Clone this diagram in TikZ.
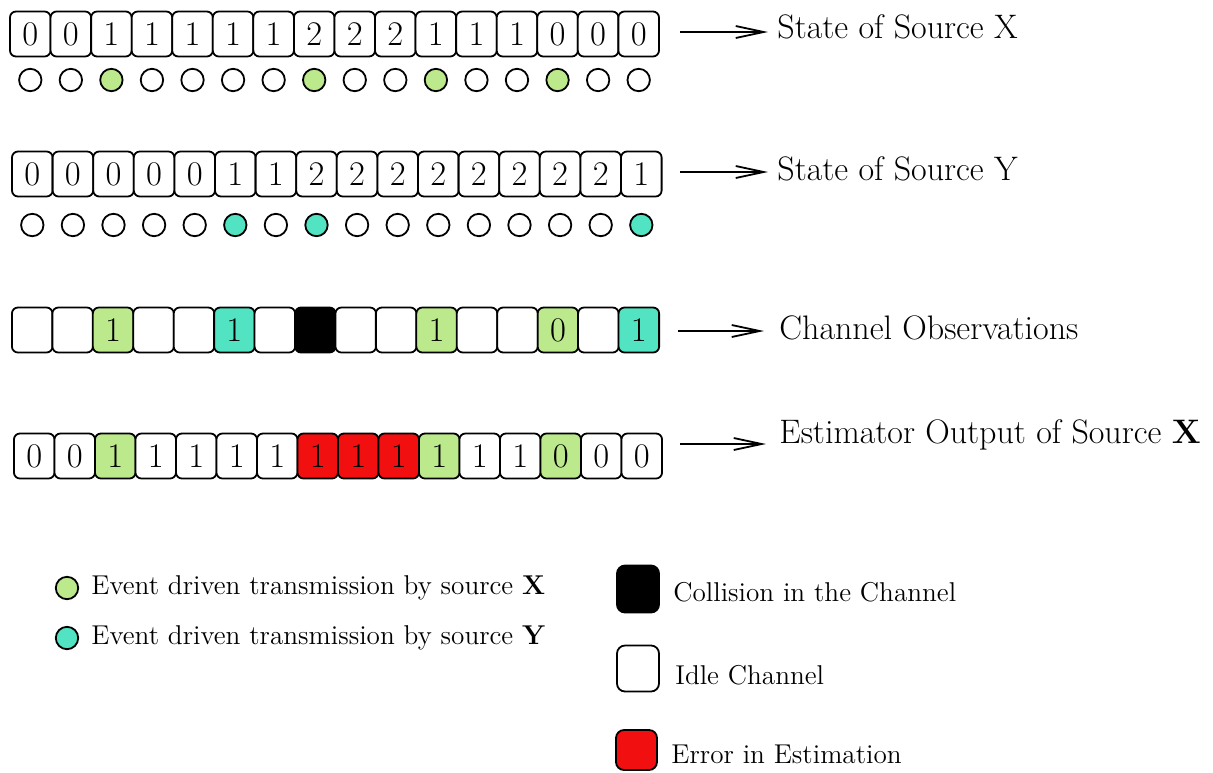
\documentclass[tikz,border=0pt]{standalone}
\usepackage{fontspec}
\usetikzlibrary{arrows.meta}
\definecolor{evx}{RGB}{187,233,139}
\definecolor{evy}{RGB}{82,227,194}
\definecolor{errred}{RGB}{242,15,15}
\tikzset{
  cell/.style={draw, rounded corners=3pt, line width=0.9pt, minimum width=20.3pt,
    minimum height=22.5pt, inner sep=0pt, font=\LARGE},
  dot/.style={circle, draw, line width=0.9pt, minimum size=11.2pt, inner sep=0pt},
  arr/.style={-{Straight Barb[length=14pt,width=6pt]}, line width=0.9pt},
  rowlabel/.style={anchor=west, inner sep=0pt, font=\fontsize{17}{20}\selectfont},
  legtext/.style={anchor=west, inner sep=0pt, font=\fontsize{13.6}{16}\selectfont},
  legbox/.style={draw, rounded corners=4pt, line width=0.9pt, inner sep=0pt}
}
\begin{document}
\begin{tikzpicture}[x=0.5pt, y=-0.5pt]
\useasboundingbox (0,0) rectangle (1213,772);

% ---- state of source X ----
\foreach \v/\f [count=\i] in {0/white,0/white,1/white,1/white,1/white,1/white,1/white,2/white,
                              2/white,2/white,1/white,1/white,1/white,0/white,0/white,0/white}
  \node[cell, fill=\f] (x\i) at ({10+40.56*(\i-0.5)}, 34) {\v};
\foreach \f [count=\i] in {white,white,evx,white,white,white,white,evx,
                           white,white,evx,white,white,evx,white,white}
  \node[dot, fill=\f] (dx\i) at ({10+40.56*(\i-0.5)}, 80) {};
\coordinate (xa) at (680,32);
\coordinate (xb) at (768,32);
\draw[arr] (xa) -- (xb);
\node[rowlabel] (lx) at (777,27) {State of Source X};

% ---- state of source Y ----
\foreach \v [count=\i] in {0,0,0,0,0,1,1,2,2,2,2,2,2,2,2,1}
  \node[cell, fill=white] (y\i) at ({12+40.6*(\i-0.5)}, 174) {\v};
\foreach \f [count=\i] in {white,white,white,white,white,evy,white,evy,
                           white,white,white,white,white,white,white,evy}
  \node[dot, fill=\f] (dy\i) at ({12+40.6*(\i-0.5)}, 225) {};
\coordinate (ya) at (680,172);
\coordinate (yb) at (768,172);
\draw[arr] (ya) -- (yb);
\node[rowlabel] (ly) at (777,169) {State of Source Y};

% ---- channel observations ----
\foreach \v/\f [count=\i] in {{}/white,{}/white,1/evx,{}/white,{}/white,1/evy,{}/white,{}/black,
                              {}/white,{}/white,1/evx,{}/white,{}/white,0/evx,{}/white,1/evy}
  \node[cell, fill=\f] (c\i) at ({12+40.44*(\i-0.5)}, 330) {\v};
\coordinate (ca) at (678,331);
\coordinate (cb) at (764,331);
\draw[arr] (ca) -- (cb);
\node[rowlabel] (lc) at (779,328) {Channel Observations};

% ---- estimator output ----
\foreach \v/\f [count=\i] in {0/white,0/white,1/evx,1/white,1/white,1/white,1/white,1/errred,
                              1/errred,1/errred,1/evx,1/white,1/white,0/evx,0/white,0/white}
  \node[cell, fill=\f] (e\i) at ({14+40.5*(\i-0.5)}, 456) {\v};
\coordinate (ea) at (680,444);
\coordinate (eb) at (766,444);
\draw[arr] (ea) -- (eb);
\node[rowlabel] (le) at (779,435) {Estimator Output of Source \textbf{X}};

% ---- legend ----
\node[dot, fill=evx] (kx) at (67,588) {};
\node[legtext] (tkx) at (91,588) {Event driven transmission by source \textbf{X}};
\node[dot, fill=evy] (ky) at (67,638) {};
\node[legtext] (tky) at (91,638) {Event driven transmission by source \textbf{Y}};

\node[legbox, fill=black, minimum width=21pt, minimum height=23.5pt] (kc) at (638,589) {};
\node[legtext] (tkc) at (673,592) {Collision in the Channel};
\node[legbox, fill=white, minimum width=21pt, minimum height=23pt] (ki) at (638,668.5) {};
\node[legtext] (tki) at (675,675) {Idle Channel};
\node[legbox, fill=errred, minimum width=20.5pt, minimum height=20pt] (ke) at (636.5,750) {};
\node[legtext] (tke) at (671,754) {Error in Estimation};
\end{tikzpicture}
\end{document}
